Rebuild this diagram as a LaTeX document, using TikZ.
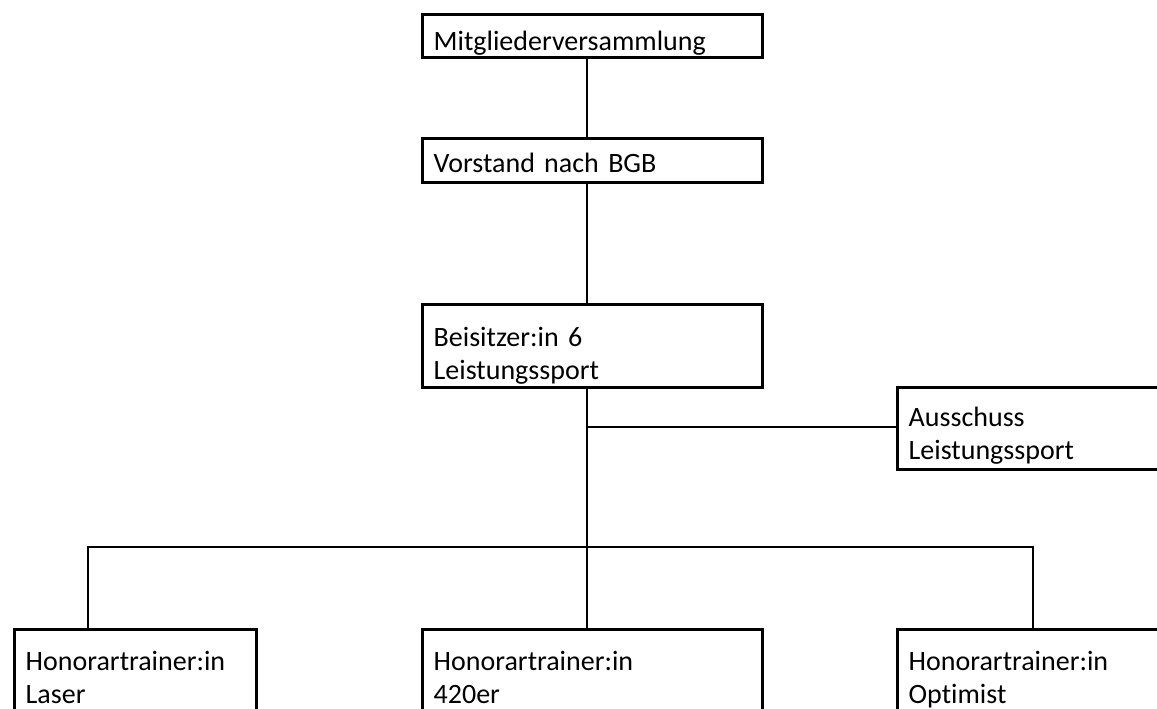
\documentclass[tikz,border=0pt]{standalone}
\usepackage{fontspec}
\setmainfont{Carlito}[Ligatures={TeX,NoCommon}, WordSpace=0.8]

\begin{document}
\begin{tikzpicture}[x=1pt, y=-1pt, line join=miter,
  box/.style={draw, line width=3.4pt, anchor=north west, align=left,
    inner xsep=11pt, inner ysep=0pt, font=\fontsize{28}{32.5}\selectfont},
  link/.style={line width=2.2pt}]

  %% ════ 方框（左上角定位）════
  \node[box, text width=318pt, text height=35.5pt, text depth=7.5pt] (mv)    at (421,13)  {Mitgliederversammlung};
  \node[box, text width=318pt, text height=34pt, text depth=10pt]    (vs)    at (421,137) {Vorstand nach BGB};
  \node[box, text width=318pt, text height=42pt, text depth=41pt]    (bs)    at (421,303) {Beisitzer:in 6\\Leistungssport};
  \node[box, text width=318pt, text height=39pt, text depth=43pt]    (aus)   at (896,386) {Ausschuss\\Leistungssport};
  \node[box, text width=220pt, text height=41pt, text depth=100pt]   (laser) at (13,628)  {Honorartrainer:in\\Laser};
  \node[box, text width=318pt, text height=41pt, text depth=100pt]   (b420)  at (421,628) {Honorartrainer:in\\420er};
  \node[box, text width=318pt, text height=41pt, text depth=100pt]   (opt)   at (896,628) {Honorartrainer:in\\Optimist};

  %% ════ 连接点 ════
  \coordinate (bus)  at (587,547);
  \coordinate (abz)  at (587,427);
  \coordinate (busL) at (88,547);
  \coordinate (busR) at (1033,547);

  %% ════ 连线 ════
  \draw[link] (mv.south -| bus) -- (vs.north -| bus);
  \draw[link] (vs.south -| bus) -- (bs.north -| bus);
  \draw[link] (bs.south -| bus) -- (bus);
  \draw[link] (abz) -- (abz -| aus.west);
  \draw[link] (busL |- laser.north) -- (busL) -- (busR) -- (busR |- opt.north);
  \draw[link] (bus) -- (b420.north -| bus);

  % 钉死画布
  \pgfresetboundingbox
  \path[use as bounding box] (0,0) rectangle (1157,709);
\end{tikzpicture}
\end{document}
